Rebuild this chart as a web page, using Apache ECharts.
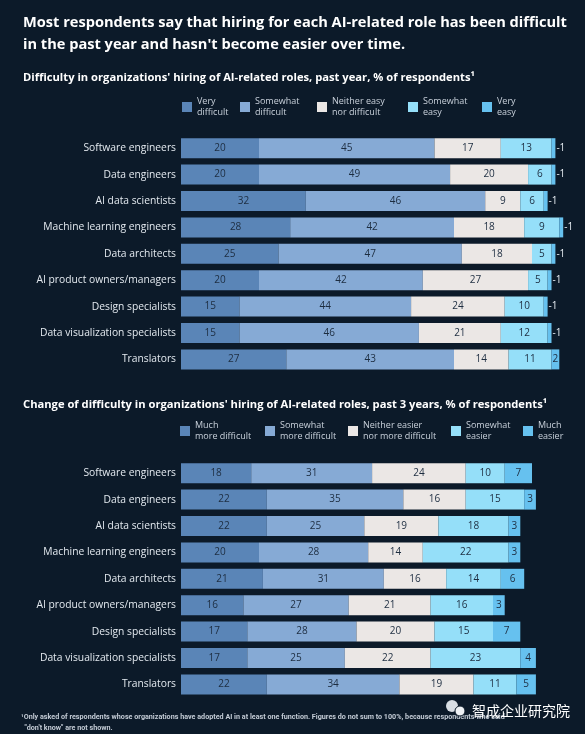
<!DOCTYPE html>
<html><head><meta charset="utf-8">
<script src="https://cdn.jsdelivr.net/npm/echarts@6/dist/echarts.min.js"></script>
<style>html,body{margin:0;padding:0;background:#0c1a29;}#c{width:585px;height:734px;}</style>
</head><body><div id="c"></div>
<script>
const categories = ['Software engineers','Data engineers','AI data scientists','Machine learning engineers','Data architects','AI product owners/managers','Design specialists','Data visualization specialists','Translators'];

const pastYearNames = ['Very difficult','Somewhat difficult','Neither easy nor difficult','Somewhat easy','Very easy'];
const pyVeryDifficult = [20,20,32,28,25,20,15,15,27];
const pySomewhatDifficult = [45,49,46,42,47,42,44,46,43];
const pyNeither = [17,20,9,18,18,27,24,21,14];
const pySomewhatEasy = [13,6,6,9,5,5,10,12,11];
const pyVeryEasy = [1,1,1,1,1,1,1,1,2];

const changeNames = ['Much more difficult','Somewhat more difficult','Neither easier nor more difficult','Somewhat easier','Much easier'];
const chMuchMore = [18,22,22,20,21,16,17,17,22];
const chSomewhatMore = [31,35,25,28,31,27,28,25,34];
const chNeither = [24,16,19,14,16,21,20,22,19];
const chSomewhatEasier = [10,15,18,22,14,16,15,23,11];
const chMuchEasier = [7,3,3,3,6,3,7,4,5];

const legendLabels = {
  'Very difficult':'Very\ndifficult','Somewhat difficult':'Somewhat\ndifficult','Neither easy nor difficult':'Neither easy\nnor difficult','Somewhat easy':'Somewhat\neasy','Very easy':'Very\neasy',
  'Much more difficult':'Much\nmore difficult','Somewhat more difficult':'Somewhat\nmore difficult','Neither easier nor more difficult':'Neither easier\nnor more difficult','Somewhat easier':'Somewhat\neasier','Much easier':'Much\neasier'
};

const colors = ['#5a85b7','#86aad5','#ebe7e5','#95dff9','#66c1ef'];
const FONT = 'Open Sans';
const bg = '#0c1a29';

const chart = echarts.init(document.getElementById('c'));

function mkSeries(name, data, color, gi, small) {
  return {
    type:'bar', name, stack:'s'+gi, xAxisIndex:gi, yAxisIndex:gi,
    barWidth:20, itemStyle:{color, borderWidth:0},
    data: data.map(v => {
      const o = {value:v};
      if (small && v <= 1) {
        o.label = {position:'right', distance:1, color:'#e6ecf2', formatter:'-{c}'};
      }
      return o;
    }),
    label:{show:true, position:'inside', color:'#1d2d40', fontSize:10, fontFamily:FONT},
    emphasis:{disabled:true}
  };
}

const seriesTop = [pyVeryDifficult,pySomewhatDifficult,pyNeither,pySomewhatEasy,pyVeryEasy];
const seriesBot = [chMuchMore,chSomewhatMore,chNeither,chSomewhatEasier,chMuchEasier];

const series = [];
seriesTop.forEach((d,i)=>series.push(mkSeries(pastYearNames[i], d, colors[i], 0, i===4)));
seriesBot.forEach((d,i)=>series.push(mkSeries(changeNames[i], d, colors[i], 1, false)));

const topLegX = [182,240,317,408,482];
const botLegX = [180,265,348,451,523];
const legends = [];
function mkLegend(name, x, y) {
  return {
    data:[name], left:x, top:y, padding:0, itemWidth:10, itemHeight:10, icon:'rect',
    selectedMode:false,
    formatter: n => legendLabels[n],
    textStyle:{color:'#c9d1db', fontSize:9, fontFamily:FONT, lineHeight:11, padding:[8,0,0,0]}
  };
}
pastYearNames.forEach((n,i)=>legends.push(mkLegend(n, topLegX[i], 92)));
changeNames.forEach((n,i)=>legends.push(mkLegend(n, botLegX[i], 416)));

const yAxisBase = {
  type:'category', data:categories, inverse:true,
  axisLine:{show:false}, axisTick:{show:false},
  axisLabel:{color:'#e3e9ef', fontSize:10.3, fontFamily:FONT, margin:5}
};
const xAxisBase = {type:'value', min:0, max:100, show:false};

chart.setOption({
  backgroundColor:bg,
  animation:false,
  title:[
    {text:"Most respondents say that hiring for each AI-related role has been difficult\nin the past year and hasn't become easier over time.",
     left:18, top:7, textStyle:{color:'#ffffff', fontSize:14.6, fontWeight:'bold', fontFamily:FONT, lineHeight:22}},
    {text:"{b|Difficulty in organizations' hiring of AI-related roles, past year, }{n|% of respondents¹}",
     left:18, top:67, textStyle:{rich:{b:{color:'#ffffff',fontSize:11.2,fontWeight:'bold',fontFamily:FONT},n:{color:'#ffffff',fontSize:11.2,fontFamily:FONT}}}},
    {text:"{b|Change of difficulty in organizations' hiring of AI-related roles, past 3 years, }{n|% of respondents¹}",
     left:18, top:394, textStyle:{rich:{b:{color:'#ffffff',fontSize:11.2,fontWeight:'bold',fontFamily:FONT},n:{color:'#ffffff',fontSize:11.2,fontFamily:FONT}}}},
    {text:"¹Only asked of respondents whose organizations have adopted AI in at least one function. Figures do not sum to 100%, because respondents who said\n  \"don't know\" are not shown.",
     left:16, top:707, textStyle:{color:'#c3cbd5', fontSize:7.2, fontFamily:'Roboto', lineHeight:11}},
    {text:"智成企业研究院", left:467, top:699, textStyle:{color:'#ffffff', fontSize:14, fontWeight:'normal', fontFamily:'Noto Sans CJK SC'}}
  ],
  graphic:[
    {type:'circle', shape:{cx:452, cy:706, r:6}, style:{fill:'#d8dde3'}, z:10},
    {type:'circle', shape:{cx:460, cy:711, r:5}, style:{fill:'#eef1f4', stroke:'#0c1a29', lineWidth:1}, z:11}
  ],
  legend:legends,
  grid:[
    {left:181, width:390, top:135, height:237.6, containLabel:false},
    {left:181, width:390, top:460, height:237.6, containLabel:false}
  ],
  xAxis:[Object.assign({gridIndex:0}, xAxisBase), Object.assign({gridIndex:1}, xAxisBase)],
  yAxis:[Object.assign({gridIndex:0}, yAxisBase), Object.assign({gridIndex:1}, yAxisBase)],
  series
});
</script></body></html>
